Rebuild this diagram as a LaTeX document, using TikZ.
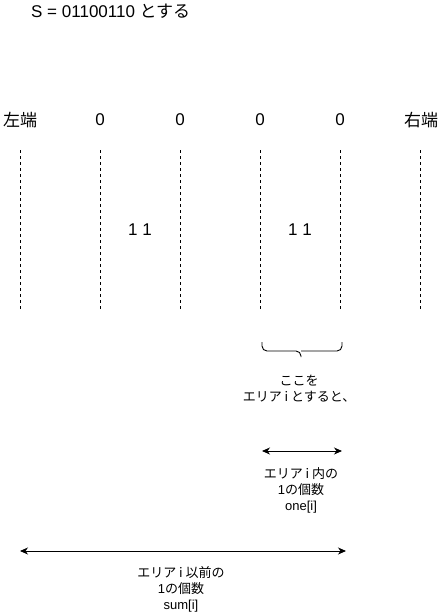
\documentclass[tikz,border=0pt]{standalone}
\usepackage{fontspec}
\setmainfont{Liberation Sans}
\newfontfamily\jp{Noto Sans CJK JP}
\usetikzlibrary{arrows.meta}
\begin{document}
\begin{tikzpicture}[x=1pt, y=-1pt,
	lbl/.style={inner sep=0pt, font=\fontsize{17}{20}\selectfont},
	note/.style={inner sep=0pt, align=center, font=\fontsize{13}{16}\selectfont},
	divider/.style={dash pattern=on 3pt off 3pt, line width=0.8pt},
	span/.style={{Stealth[length=8pt,width=7pt,inset=2.5pt]}-{Stealth[length=8pt,width=7pt,inset=2.5pt]}, line width=0.9pt}]
	\useasboundingbox (0, 0) rectangle (441, 614);

	\node[lbl, anchor=west] (title) at (31, 11) {S = 01100110 {\jp とする}};

	% borders and digits
	\node[lbl] (left) at (20, 120) {\jp 左端};
	\node[lbl] (right) at (421, 120) {\jp 右端};
	\foreach \x/\n in {100/a, 180/b, 260/c, 340/d} {
		\node[lbl] (z\n) at (\x, 120) {0};
	}
	\foreach \x/\n in {20/l, 100/a, 180/b, 260/c, 340/d, 420/r} {
		\coordinate (top\n) at (\x, 150);
		\coordinate (bot\n) at (\x, 310);
		\draw[divider] (top\n) -- (bot\n);
	}
	\node[lbl] (onesa) at (140, 230) {1 1};
	\node[lbl] (onesc) at (300, 230) {1 1};

	% area i
	\coordinate (bl) at (262, 342);
	\coordinate (br) at (342, 342);
	\coordinate (bm) at (301, 351);
	\coordinate (btip) at (301, 357);
	\draw[line width=0.9pt, rounded corners=5pt] (bl) |- (bm) -- (btip);
	\draw[line width=0.9pt, rounded corners=5pt] (br) |- (bm);
	\node[note] (area) at (299, 389) {\jp ここを\\\jp エリア i とすると、};

	\coordinate (ia) at (262, 451);
	\coordinate (ib) at (342, 451);
	\draw[span] (ia) -- (ib);
	\node[note] (one) at (301, 490) {\jp エリア i 内の\\1{\jp の個数}\\one[i]};

	\coordinate (sa) at (20, 551);
	\coordinate (sb) at (346, 551);
	\draw[span] (sa) -- (sb);
	\node[note] (sum) at (181, 589) {\jp エリア i 以前の\\1{\jp の個数}\\sum[i]};
\end{tikzpicture}
\end{document}
